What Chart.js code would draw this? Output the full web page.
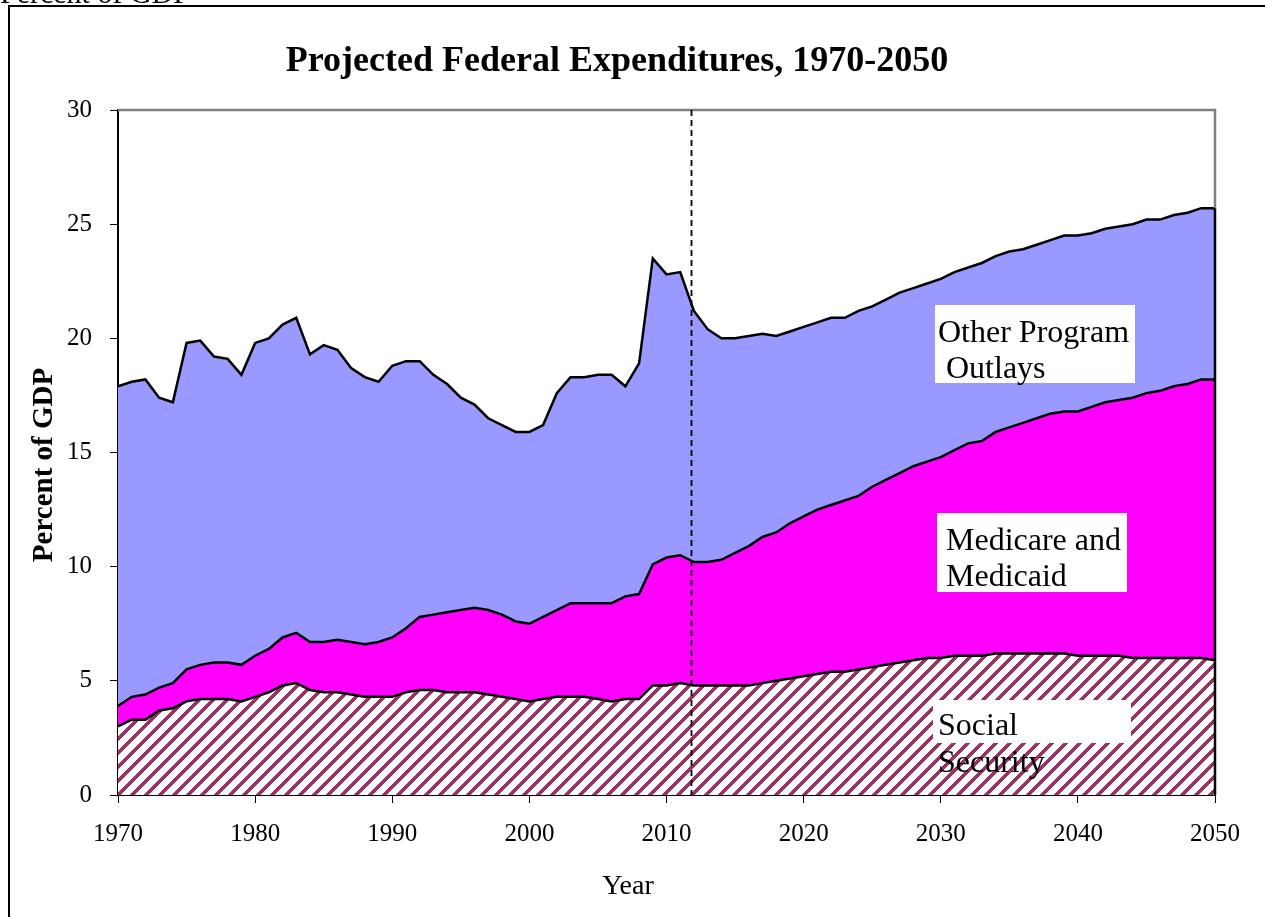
<!DOCTYPE html>
<html>
<head>
<meta charset="utf-8">
<script src="https://cdn.jsdelivr.net/npm/chart.js@4/dist/chart.umd.min.js"></script>
<style>
  html, body { margin: 0; padding: 0; background: #fff; }
</style>
</head>
<body>
<canvas id="fedChart" width="1265" height="917"></canvas>
<script>
var years = [
  1970, 1971, 1972, 1973, 1974, 1975, 1976, 1977, 1978, 1979,
  1980, 1981, 1982, 1983, 1984, 1985, 1986, 1987, 1988, 1989,
  1990, 1991, 1992, 1993, 1994, 1995, 1996, 1997, 1998, 1999,
  2000, 2001, 2002, 2003, 2004, 2005, 2006, 2007, 2008, 2009,
  2010, 2011, 2012, 2013, 2014, 2015, 2016, 2017, 2018, 2019,
  2020, 2021, 2022, 2023, 2024, 2025, 2026, 2027, 2028, 2029,
  2030, 2031, 2032, 2033, 2034, 2035, 2036, 2037, 2038, 2039,
  2040, 2041, 2042, 2043, 2044, 2045, 2046, 2047, 2048, 2049,
  2050
];

// percent of GDP, one value per year
var socialSecurity = [
  3.0, 3.3, 3.3, 3.7, 3.8, 4.1, 4.2, 4.2, 4.2, 4.1,
  4.3, 4.5, 4.8, 4.9, 4.6, 4.5, 4.5, 4.4, 4.3, 4.3,
  4.3, 4.5, 4.6, 4.6, 4.5, 4.5, 4.5, 4.4, 4.3, 4.2,
  4.1, 4.2, 4.3, 4.3, 4.3, 4.2, 4.1, 4.2, 4.2, 4.8,
  4.8, 4.9, 4.8, 4.8, 4.8, 4.8, 4.8, 4.9, 5.0, 5.1,
  5.2, 5.3, 5.4, 5.4, 5.5, 5.6, 5.7, 5.8, 5.9, 6.0,
  6.0, 6.1, 6.1, 6.1, 6.2, 6.2, 6.2, 6.2, 6.2, 6.2,
  6.1, 6.1, 6.1, 6.1, 6.0, 6.0, 6.0, 6.0, 6.0, 6.0,
  5.9
];
var medicareMedicaid = [
  0.9, 1.0, 1.1, 1.0, 1.1, 1.4, 1.5, 1.6, 1.6, 1.6,
  1.8, 1.9, 2.1, 2.2, 2.1, 2.2, 2.3, 2.3, 2.3, 2.4,
  2.6, 2.8, 3.2, 3.3, 3.5, 3.6, 3.7, 3.7, 3.6, 3.4,
  3.4, 3.6, 3.8, 4.1, 4.1, 4.2, 4.3, 4.5, 4.6, 5.3,
  5.6, 5.6, 5.4, 5.4, 5.5, 5.8, 6.1, 6.4, 6.5, 6.8,
  7.0, 7.2, 7.3, 7.5, 7.6, 7.9, 8.1, 8.3, 8.5, 8.6,
  8.8, 9.0, 9.3, 9.4, 9.7, 9.9, 10.1, 10.3, 10.5, 10.6,
  10.7, 10.9, 11.1, 11.2, 11.4, 11.6, 11.7, 11.9, 12.0, 12.2,
  12.3
];
var otherOutlays = [
  14.0, 13.8, 13.8, 12.7, 12.3, 14.3, 14.2, 13.4, 13.3, 12.7,
  13.7, 13.6, 13.7, 13.8, 12.6, 13.0, 12.7, 12.0, 11.7, 11.4,
  11.9, 11.7, 11.2, 10.5, 10.0, 9.3, 8.9, 8.4, 8.3, 8.3,
  8.4, 8.4, 9.5, 9.9, 9.9, 10.0, 10.0, 9.2, 10.1, 13.4,
  12.4, 12.4, 11.0, 10.2, 9.7, 9.4, 9.2, 8.9, 8.6, 8.4,
  8.3, 8.2, 8.2, 8.0, 8.1, 7.9, 7.9, 7.9, 7.8, 7.8,
  7.8, 7.8, 7.7, 7.8, 7.7, 7.7, 7.6, 7.6, 7.6, 7.7,
  7.7, 7.6, 7.6, 7.6, 7.6, 7.6, 7.5, 7.5, 7.5, 7.5,
  7.5
];

var yTicks = [0, 5, 10, 15, 20, 25, 30];
var xTickStep = 10;
var projectionStart = 2011.8; // dashed divider

var serif = '"Liberation Serif", "Times New Roman", serif';

function points(vals) {
  return years.map(function (yr, i) { return { x: yr, y: vals[i] }; });
}

// maroon wide upward diagonal hatch, pixel stepped like the original
function makeHatch(ctx) {
  var size = 14;
  var c = document.createElement('canvas');
  c.width = size; c.height = size;
  var g = c.getContext('2d');
  g.fillStyle = '#ffffff';
  g.fillRect(0, 0, size, size);
  g.fillStyle = '#993366';
  for (var x = 0; x < size; x++) {
    for (var y = 0; y < size; y++) {
      if ((x + y) % size < 5) g.fillRect(x, y, 1, 1);
    }
  }
  return ctx.createPattern(c, 'repeat');
}

var decor = {
  id: 'decor',
  beforeDraw: function (chart) {
    var ctx = chart.ctx;
    ctx.save();
    ctx.fillStyle = '#fff';
    ctx.fillRect(0, 0, chart.width, chart.height);
    ctx.restore();
  },
  afterDatasetsDraw: function (chart) {
    var ctx = chart.ctx, a = chart.chartArea;
    var xs = chart.scales.x, ys = chart.scales.y;
    var last = years.length - 1;
    var topLast = ys.getPixelForValue(socialSecurity[last] + medicareMedicaid[last] + otherOutlays[last]);
    ctx.save();
    // plot frame, grey where empty, black where the areas end
    ctx.strokeStyle = '#808080';
    ctx.lineWidth = 2.5;
    ctx.beginPath();
    ctx.moveTo(a.left, a.top);
    ctx.lineTo(a.right, a.top);
    ctx.lineTo(a.right, topLast);
    ctx.stroke();
    ctx.strokeStyle = '#000';
    ctx.beginPath();
    ctx.moveTo(a.right, topLast);
    ctx.lineTo(a.right, a.bottom);
    ctx.stroke();
    // projection divider
    var dx = Math.round(xs.getPixelForValue(projectionStart)) + 0.5;
    ctx.setLineDash([6, 4]);
    ctx.lineWidth = 1.8;
    ctx.beginPath();
    ctx.moveTo(dx, a.top);
    ctx.lineTo(dx, a.bottom);
    ctx.stroke();
    ctx.setLineDash([]);

    // in-chart labels
    ctx.font = '32px ' + serif;
    ctx.textBaseline = 'alphabetic';
    ctx.textAlign = 'left';
    ctx.fillStyle = '#fff';
    ctx.fillRect(935, 305, 200, 78);
    ctx.fillRect(937, 513, 190, 79);
    ctx.fillRect(933, 700, 198, 43);
    ctx.fillStyle = '#000';
    ctx.fillText('Other Program', 938, 342);
    ctx.fillText(' Outlays', 938, 378);
    ctx.fillText('Medicare and', 946, 550);
    ctx.fillText('Medicaid', 946, 586);
    ctx.fillText('Social', 938, 735);
    ctx.fillText('Security', 938, 772);
    ctx.restore();
  },
  afterDraw: function (chart) {
    var ctx = chart.ctx;
    ctx.save();
    // outer frame running off the page
    ctx.strokeStyle = '#000';
    ctx.lineWidth = 2;
    ctx.strokeRect(9, 6, 1300, 1000);
    ctx.fillStyle = '#000';
    ctx.textAlign = 'left';
    ctx.textBaseline = 'alphabetic';
    ctx.font = '30px ' + serif;
    ctx.fillText('Percent of GDP', 0, 3);
    ctx.textAlign = 'center';
    ctx.font = 'bold 36px ' + serif;
    ctx.fillText('Projected Federal Expenditures, 1970-2050', 617, 71);
    ctx.font = '28px ' + serif;
    ctx.fillText('Year', 628, 894);
    ctx.translate(52, 465);
    ctx.rotate(-Math.PI / 2);
    ctx.font = 'bold 29px ' + serif;
    ctx.fillText('Percent of GDP', 0, 0);
    ctx.restore();
  }
};

var ctx = document.getElementById('fedChart').getContext('2d');
var hatch = makeHatch(ctx);

new Chart(ctx, {
  type: 'line',
  data: {
    datasets: [{
      label: 'Social Security',
      data: points(socialSecurity),
      backgroundColor: hatch,
      borderColor: '#000',
      borderWidth: 2.5,
      fill: 'origin'
    }, {
      label: 'Medicare and Medicaid',
      data: points(medicareMedicaid),
      backgroundColor: '#ff00ff',
      borderColor: '#000',
      borderWidth: 2.5,
      fill: '-1'
    }, {
      label: 'Other Program Outlays',
      data: points(otherOutlays),
      backgroundColor: '#9999ff',
      borderColor: '#000',
      borderWidth: 2.5,
      fill: '-1'
    }]
  },
  options: {
    responsive: false,
    animation: false,
    devicePixelRatio: 1,
    elements: { point: { radius: 0 }, line: { tension: 0 } },
    layout: { padding: { left: 0, right: 50, top: 110, bottom: 62 } },
    plugins: {
      legend: { display: false },
      tooltip: { enabled: false },
      title: { display: false }
    },
    scales: {
      x: {
        type: 'linear',
        min: years[0],
        max: years[years.length - 1],
        z: 1,
        afterFit: function (s) { s.height = 60; },
        border: { color: '#000', width: 2 },
        grid: { drawOnChartArea: false, color: '#000', tickLength: 8, lineWidth: 1 },
        ticks: {
          stepSize: xTickStep,
          color: '#000',
          padding: 16,
          maxRotation: 0,
          font: { family: serif, size: 25 },
          callback: function (v) { return String(v); }
        }
      },
      y: {
        stacked: true,
        min: yTicks[0],
        max: yTicks[yTicks.length - 1],
        z: 1,
        afterFit: function (s) { s.width = 118; },
        afterBuildTicks: function (s) { s.ticks = yTicks.map(function (v) { return { value: v }; }); },
        border: { color: '#000', width: 2 },
        grid: { drawOnChartArea: false, color: '#000', tickLength: 8, lineWidth: 1 },
        ticks: {
          color: '#000',
          padding: 18,
          font: { family: serif, size: 25 }
        }
      }
    }
  },
  plugins: [decor]
});
</script>
</body>
</html>
